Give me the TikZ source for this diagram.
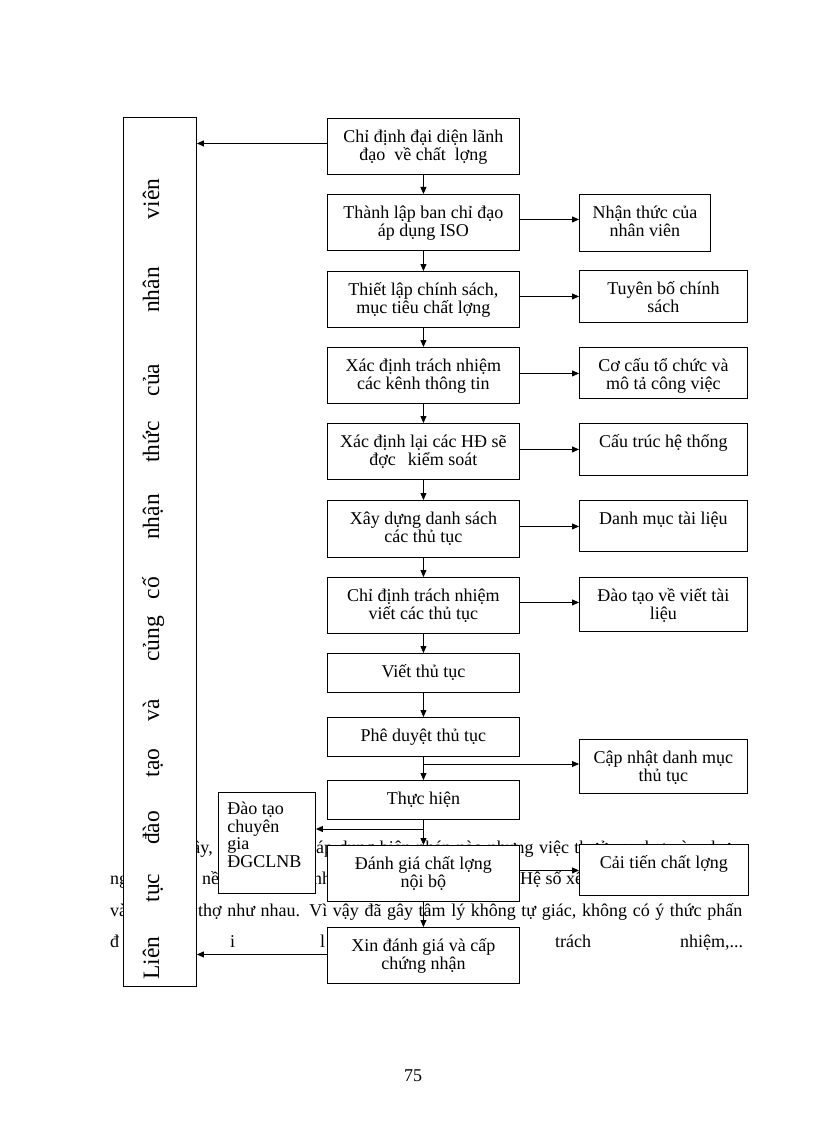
\documentclass[tikz,border=0pt]{standalone}
\usepackage{fontspec}
\setmainfont{Liberation Serif}
\usetikzlibrary{arrows.meta}
\newcommand\bxfont{\fontsize{18}{18.3}\selectfont}
\newcommand\bxt[3]{\parbox[t][#2pt][t]{#1pt}{\lineskiplimit=-100pt\parskip=0pt\centering\vspace*{5.4pt}\hbox{}#3\par}}
\newcommand\bxl[3]{\parbox[t][#2pt][t]{#1pt}{\lineskiplimit=-100pt\parskip=0pt\raggedright\leftskip=9pt\baselineskip=17.7pt\vspace*{4.3pt}\hbox{}#3\par}}
\tikzset{
  bx/.style={draw, fill=white, line width=0.9pt, inner sep=0pt, anchor=north west, font=\bxfont},
  arr/.style={line width=0.9pt, -{Triangle[length=7pt,width=6pt]}},
  bg/.style={inner sep=0pt, anchor=base west, font=\bxfont},
  vt/.style={inner sep=0pt, anchor=base, rotate=90, font=\fontsize{23.5}{24}\selectfont}
}
\begin{document}
\begin{tikzpicture}[x=1pt,y=-1pt]
\useasboundingbox[fill=white] (0,0) rectangle (816,1123);
% background page text (partly hidden by the boxes)
\node[bg, anchor=base east] (t1a) at (213,853) {đây,};
\node[bg] (t1b) at (316,853) {\makebox[422pt][s]{áp dụng biện pháp nào nhưng việc thưởng, phạt còn chưa}};
\node[bg] (t2a) at (110,884) {ng};
\node[bg] (t2b) at (202,884) {nề};
\node[bg] (t2c) at (313,884) {như};
\node[bg] (t2d) at (520,884) {Hệ số xếp};
\node[bg] (t3a) at (110,916) {và};
\node[bg] (t3b) at (198,916) {\makebox[544pt][s]{thợ như nhau. Vì vậy đã gây tâm lý không tự giác, không có ý thức phấn}};
\node[bg] (t4a) at (110,947) {đ};
\node[bg] (t4b) at (230,947) {i};
\node[bg] (t4c) at (320,947) {l};
\node[bg] (t4d) at (555,947) {trách};
\node[bg] (t4e) at (680,947) {nhiệm,...};
\node[font=\bxfont, anchor=base, inner sep=0pt] (pg) at (413,1081) {75};

% left tall box
\node[bx, minimum width=73pt, minimum height=869pt] (L) at (123,117) {};
\node[vt] (w1) at (159,199) {viên};
\node[vt] (w2) at (159,290) {nhân};
\node[vt] (w3) at (159,380) {của};
\node[vt] (w4) at (159,442) {thức};
\node[vt] (w5) at (159,517) {nhận};
\node[vt] (w6) at (159,588) {cố};
\node[vt] (w7) at (159,639) {củng};
\node[vt] (w8) at (159,710) {và};
\node[vt] (w9) at (159,763) {tạo};
\node[vt] (w10) at (159,828) {đào};
\node[vt] (w11) at (159,888) {tục};
\node[vt] (w12) at (159,958) {Liên};

% main column
\node[bx] (b1) at (327,118) {\bxt{192}{56}{Chỉ định đại diện lãnh\\đạo \ về chất \ lợng}};
\node[bx] (b2) at (327,194) {\bxt{192}{56}{Thành lập ban chỉ đạo\\áp dụng ISO}};
\node[bx] (b3) at (327,271) {\bxt{192}{56}{Thiết lập chính sách,\\mục tiêu chất lợng}};
\node[bx] (b4) at (327,347) {\bxt{192}{56}{Xác định trách nhiệm\\các kênh thông tin}};
\node[bx] (b5) at (327,423) {\bxt{192}{56}{Xác định lại các HĐ sẽ\\đợc\hspace{12pt}kiểm soát}};
\node[bx] (b6) at (327,500) {\bxt{192}{57}{Xây dựng danh sách\\các thủ tục}};
\node[bx] (b7) at (327,577) {\bxt{192}{56}{Chỉ định trách nhiệm\\viết các thủ tục}};
\node[bx] (b8) at (327,653) {\bxt{192}{39}{Viết thủ tục}};
\node[bx] (b9) at (327,717) {\bxt{192}{39}{Phê duyệt thủ tục}};
\node[bx] (b10) at (327,780) {\bxt{192}{39}{Thực hiện}};
\node[bx] (b11) at (327,845) {\bxt{192}{56}{Đánh giá chất lợng\\nội bộ}};
\node[bx] (b12) at (327,927) {\bxt{192}{56}{Xin đánh giá và cấp\\chứng nhận}};

% right column
\node[bx] (r2) at (579,194) {\bxt{131}{57}{Nhận thức của\\nhân viên}};
\node[bx] (r3) at (579,270) {\bxt{168}{52}{Tuyên bố chính\\sách}};
\node[bx] (r4) at (579,347) {\bxt{168}{51}{Cơ cấu tổ chức và\\mô tả công việc}};
\node[bx] (r5) at (579,423) {\bxt{168}{52}{Cấu trúc hệ thống}};
\node[bx] (r6) at (579,500) {\bxt{168}{51}{Danh mục tài liệu}};
\node[bx] (r7) at (579,577) {\bxt{168}{54}{Đào tạo về viết tài\\liệu}};
\node[bx] (r9) at (579,739) {\bxt{168}{54}{Cập nhật danh mục\\thủ tục}};
\node[bx] (r11) at (579,844) {\bxt{169}{51}{Cải tiến chất lợng}};

% expert training box
\node[bx] (G) at (218,792) {\bxl{97}{101}{Đào tạo\\chuyên\\gia\\ĐGCLNB}};

% junctions
\coordinate (j1) at (423,764);
\coordinate (j2) at (423,829);

% connectors
\draw[arr] ([yshift=3pt]b1.west) -- ([yshift=3pt]b1.west -| L.east);
\draw[arr] (b1.south) -- (b2.north);
\draw[arr] (b2.south) -- (b3.north);
\draw[arr] (b3.south) -- (b4.north);
\draw[arr] (b4.south) -- (b5.north);
\draw[arr] (b5.south) -- (b6.north);
\draw[arr] (b6.south) -- (b7.north);
\draw[arr] (b7.south) -- (b8.north);
\draw[arr] (b8.south) -- (b9.north);
\draw[arr] (b9.south) -- (b10.north);
\draw[arr] (b10.south) -- (b11.north);
\draw[arr] (b11.south) -- (b12.north);
\draw[arr] ([yshift=3pt]b2.east) -- ([yshift=3pt]b2.east -| r2.west);
\draw[arr] ([yshift=3pt]b3.east) -- ([yshift=3pt]b3.east -| r3.west);
\draw[arr] ([yshift=2pt]b4.east) -- ([yshift=2pt]b4.east -| r4.west);
\draw[arr] ([yshift=2pt]b5.east) -- ([yshift=2pt]b5.east -| r5.west);
\draw[arr] ([yshift=2.5pt]b6.east) -- ([yshift=2.5pt]b6.east -| r6.west);
\draw[arr] ([yshift=3pt]b7.east) -- ([yshift=3pt]b7.east -| r7.west);
\draw[arr] (j1) -- (j1 -| r9.west);
\draw[arr] (j2) -- (j2 -| G.east);
\draw[arr] ([yshift=3pt]b11.east) -- ([yshift=3pt]b11.east -| r11.west);
\draw[arr] ([yshift=1pt]b12.west) -- ([yshift=1pt]b12.west -| L.east);
\end{tikzpicture}
\end{document}
